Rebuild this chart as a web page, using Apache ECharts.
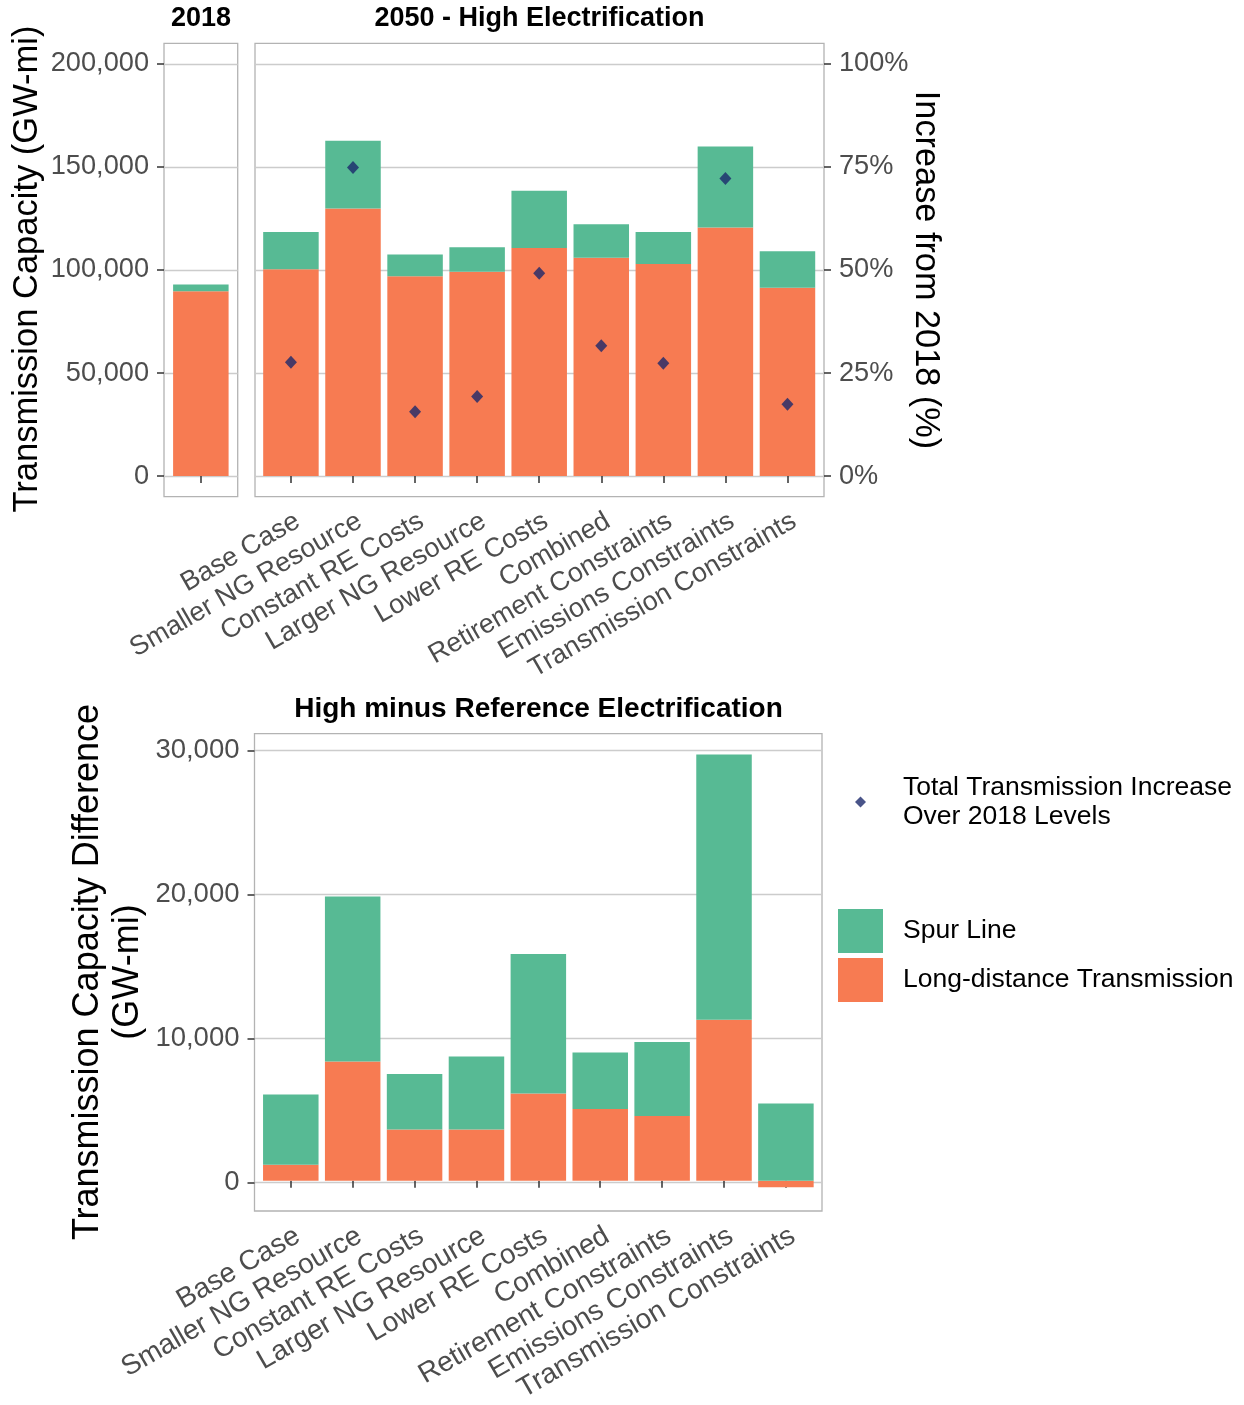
<!DOCTYPE html>
<html>
<head>
<meta charset="utf-8">
<script src="https://cdn.jsdelivr.net/npm/echarts@6/dist/echarts.min.js"></script>
<style>
html,body{margin:0;padding:0;background:#fff;}
#chart{width:1244px;height:1405px;}
</style>
</head>
<body>
<div id="chart"></div>
<script>
// ---------- data ----------
const categories = ['Base Case','Smaller NG Resource','Constant RE Costs','Larger NG Resource','Lower RE Costs','Combined','Retirement Constraints','Emissions Constraints','Transmission Constraints'];
const ld2018 = [89700];
const spur2018 = [3300];
const ld2050 = [100400,129800,97000,99100,110700,105900,102900,120600,91400];
const spur2050 = [18100,32900,10500,12000,27800,16300,15600,39300,17700];
const pctIncrease = [27.6,74.9,15.6,19.3,49.2,31.6,27.4,72.2,17.4];
const ldDiff = [1100,8300,3570,3570,6070,5000,4510,11220,-460];
const spurDiff = [4900,11500,3860,5080,9730,3930,5160,18480,5370];
const capTicks = [0,50000,100000,150000,200000];
const pctTicks = [0,25,50,75,100];
const diffTicks = [0,10000,20000,30000];

const SPUR = 'Spur Line', LD = 'Long-distance Transmission', PT = 'Total Transmission Increase Over 2018 Levels';
const cSpur = '#57BA94', cLD = '#F77B52', cPt = '#1B296C';
const FONT = '"Liberation Sans", Arial, sans-serif';
const gridLineC = '#CCCCCC', borderC = '#B3B3B3', tickC = '#333333', labC = '#4D4D4D';

const chart = echarts.init(document.getElementById('chart'), null, {renderer:'canvas'});
const fmt = v => Math.round(v).toLocaleString('en-US');

const topT = 43.33, topH = 453.34, botT = 733.67, botH = 477.33;
const capMin = -10000, capMax = 210000, pctMin = -5, pctMax = 105, diffMin = -1966, diffMax = 31157;

function valAxis(gi, min, max, opts) {
  return Object.assign({
    type:'value', gridIndex:gi, min:min, max:max, splitNumber:4,
    axisLine:{show:false}, axisTick:{show:false}, axisLabel:{show:false},
    splitLine:{show:false}
  }, opts || {});
}
function catAxis(gi, data, fs, mg) {
  return {
    type:'category', gridIndex:gi, data:data, boundaryGap:true,
    axisLine:{show:false},
    axisTick:{show:true, alignWithLabel:true, length:7, lineStyle:{color:tickC, width:1.5}},
    axisLabel:{show:true, rotate:30, margin:mg, fontSize:fs, color:labC, fontFamily:FONT, interval:0, align:'right', verticalAlign:'top'},
    splitLine:{show:false}
  };
}
const labelStyle = {show:true, fontSize:27.2, color:labC, fontFamily:FONT, margin:15};
const tickStyle = {show:true, length:7, lineStyle:{color:tickC, width:1.5}};

const option = {
  animation:false,
  backgroundColor:'#ffffff',
  textStyle:{fontFamily:FONT},
  grid:[
    {left:164, top:topT, width:73.7, height:topH, show:true, borderColor:borderC, borderWidth:1.3, backgroundColor:'#fff', containLabel:false},
    {left:255, top:topT, width:569, height:topH, show:true, borderColor:borderC, borderWidth:1.3, backgroundColor:'#fff', containLabel:false},
    {left:259.9, top:topT, width:558.6, height:topH, show:false, containLabel:false},
    {left:254.5, top:botT, width:567.5, height:botH, show:true, borderColor:borderC, borderWidth:1.3, backgroundColor:'#fff', containLabel:false},
    {left:259.85, top:botT, width:557, height:botH, show:false, containLabel:false}
  ],
  xAxis:[
    catAxis(0, [''], 27, 11),
    {type:'value', gridIndex:1, min:0, max:1, show:false},
    catAxis(2, categories, 27, 11),
    {type:'value', gridIndex:3, min:0, max:1, show:false},
    catAxis(4, categories, 28, 13)
  ],
  yAxis:[
    valAxis(0, capMin, capMax, {
      position:'left',
      axisTick:Object.assign({customValues:capTicks}, tickStyle),
      axisLabel:Object.assign({customValues:capTicks, formatter:fmt}, labelStyle),
      splitLine:{show:true, lineStyle:{color:gridLineC, width:1.4}}
    }),
    valAxis(1, capMin, capMax, {
      axisTick:{show:false, customValues:capTicks},
      splitLine:{show:true, lineStyle:{color:gridLineC, width:1.4}}
    }),
    valAxis(2, capMin, capMax, {show:false}),
    valAxis(2, pctMin, pctMax, {
      position:'right', offset:5.5,
      axisTick:Object.assign({customValues:pctTicks}, tickStyle),
      axisLabel:Object.assign({customValues:pctTicks, formatter:v => Math.round(v) + '%'}, labelStyle)
    }),
    valAxis(3, diffMin, diffMax, {
      position:'left', splitNumber:3,
      axisTick:Object.assign({customValues:diffTicks}, tickStyle),
      axisLabel:Object.assign({customValues:diffTicks, formatter:fmt}, labelStyle, {fontSize:27.5}),
      splitLine:{show:true, lineStyle:{color:gridLineC, width:1.4}}
    }),
    valAxis(4, diffMin, diffMax, {show:false})
  ],
  legend:[
    {
      data:[PT], orient:'vertical', left:855, top:772, padding:0,
      itemWidth:11, itemHeight:11, icon:'diamond',
      formatter: n => 'Total Transmission Increase\nOver 2018 Levels',
      textStyle:{fontSize:26.5, color:'#000', fontFamily:FONT, lineHeight:29, padding:[2,0,0,32]},
      selectedMode:false
    },
    {
      data:[SPUR, LD], orient:'vertical', left:838, top:909, padding:0,
      itemWidth:45, itemHeight:44, itemGap:5, icon:'rect',
      textStyle:{fontSize:26.5, color:'#000', fontFamily:FONT, padding:[0,0,0,15]},
      selectedMode:false
    }
  ],
  graphic:[
    {type:'text', x:201, y:19, style:{text:'2018', font:'bold 27px ' + FONT, fill:'#000', textAlign:'center', textVerticalAlign:'middle'}},
    {type:'text', x:539.5, y:19, style:{text:'2050 - High Electrification', font:'bold 27px ' + FONT, fill:'#000', textAlign:'center', textVerticalAlign:'middle'}},
    {type:'text', x:538.5, y:709, style:{text:'High minus Reference Electrification', font:'bold 28px ' + FONT, fill:'#000', textAlign:'center', textVerticalAlign:'middle'}},
    {type:'text', x:27, y:269, rotation:Math.PI/2, style:{text:'Transmission Capacity (GW-mi)', font:'34.5px ' + FONT, fill:'#000', textAlign:'center', textVerticalAlign:'middle'}},
    {type:'text', x:925, y:270, rotation:-Math.PI/2, style:{text:'Increase from 2018 (%)', font:'34.3px ' + FONT, fill:'#000', textAlign:'center', textVerticalAlign:'middle'}},
    {type:'text', x:108, y:972, rotation:Math.PI/2, style:{text:'Transmission Capacity Difference\n(GW-mi)', font:'36px ' + FONT, lineHeight:40, fill:'#000', textAlign:'center', textVerticalAlign:'middle'}}
  ],
  series:[
    {name:LD, type:'bar', xAxisIndex:0, yAxisIndex:0, stack:'y18', data:ld2018, barWidth:55.5, itemStyle:{color:cLD}},
    {name:SPUR, type:'bar', xAxisIndex:0, yAxisIndex:0, stack:'y18', data:spur2018, barWidth:55.5, itemStyle:{color:cSpur}},
    {name:LD, type:'bar', xAxisIndex:2, yAxisIndex:2, stack:'y50', data:ld2050, barWidth:55.5, itemStyle:{color:cLD}},
    {name:SPUR, type:'bar', xAxisIndex:2, yAxisIndex:2, stack:'y50', data:spur2050, barWidth:55.5, itemStyle:{color:cSpur}},
    {name:PT, type:'scatter', xAxisIndex:2, yAxisIndex:3, data:pctIncrease, symbol:'diamond', symbolSize:[12,13], itemStyle:{color:cPt}, z:5},
    {name:LD, type:'bar', xAxisIndex:4, yAxisIndex:5, stack:'diff', data:ldDiff, barWidth:55.5, itemStyle:{color:cLD}},
    {name:SPUR, type:'bar', xAxisIndex:4, yAxisIndex:5, stack:'diff', data:spurDiff, barWidth:55.5, itemStyle:{color:cSpur}}
  ]
};
chart.setOption(option);
</script>
</body>
</html>
